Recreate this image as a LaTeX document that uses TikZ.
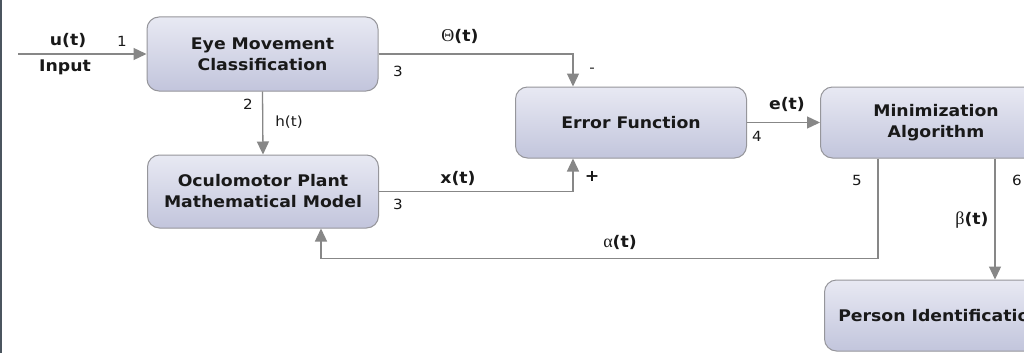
\documentclass[tikz,border=0pt]{standalone}
\usepackage{fontspec}
\setmainfont{DejaVu Sans}[FakeStretch=1.08]
\newfontfamily\grk{Liberation Serif}
\usetikzlibrary{arrows.meta}
\definecolor{lineg}{RGB}{135,135,135}
\definecolor{boxedge}{RGB}{150,150,155}
\definecolor{boxtop}{RGB}{232,233,243}
\definecolor{boxbot}{RGB}{194,197,220}
\definecolor{txt}{RGB}{25,25,25}
\definecolor{edgel}{RGB}{75,85,95}
\tikzset{
  blk/.style={draw=boxedge, line width=1pt, rounded corners=12pt, top color=boxtop, bottom color=boxbot,
    minimum width=231pt, align=center, text=txt, font=\fontsize{16}{21}\selectfont\bfseries, inner sep=0pt},
  conn/.style={draw=lineg, line width=1.3pt, -{Triangle[length=13pt,width=12pt]}},
  lbl/.style={text=txt, font=\fontsize{16}{18}\selectfont\bfseries, inner sep=0pt},
  num/.style={text=txt, font=\fontsize{14}{16}\selectfont, inner sep=0pt},
}
\begin{document}
\begin{tikzpicture}[x=1pt,y=-1pt]
\useasboundingbox (0,0) rectangle (1024,353);
\fill[white] (0,0) rectangle (1024,353);
\draw[edgel, line width=2.5pt] (1,0) -- (1,353);

\node[blk, minimum height=74pt] (eye) at (262.5,54) {Eye Movement\\Classification};
\node[blk, minimum height=73pt] (oc) at (263,191.5) {Oculomotor Plant\\Mathematical Model};
\node[blk, minimum height=71pt] (err) at (631,122.5) {Error Function};
\node[blk, minimum height=71pt] (min) at (936,122.5) {Minimization\\Algorithm};
\node[blk, minimum height=71pt] (pid) at (940,315.5) {Person Identification};

\coordinate (in) at (18,54);
\draw[conn] (in) -- (eye.west);
\node[lbl] (ut) at (68,40) {u(t)};
\node[lbl] (inp) at (65,67) {Input};
\node[num] (n1) at (122,41) {1};

\draw[conn] (eye.east) -| ([xshift=-58pt]err.north);
\node[lbl] (th) at (460,36) {{\grk\mdseries\fontsize{18}{18}\selectfont Θ}(t)};
\node[num] (n3a) at (398,71) {3};
\node[num] (minus) at (592,70) {-};

\draw[conn] (eye.south) -- (oc.north);
\node[num] (n2) at (248,104) {2};
\node[num] (ht) at (289,122) {h(t)};

\draw[conn] (oc.east) -| ([xshift=-58pt]err.south);
\node[lbl] (xt) at (458,178) {x(t)};
\node[num] (n3b) at (398,204) {3};
\node[lbl] (plus) at (592,176) {+};

\draw[conn] (err.east) -- (min.west);
\node[lbl] (et) at (787,104) {e(t)};
\node[num] (n4) at (757,136) {4};

\draw[conn] ([xshift=-58pt]min.south) -- ++(0,100) -| ([xshift=58pt]oc.south);
\node[num] (n5) at (857,180) {5};
\node[lbl] (at) at (620,242) {{\grk\mdseries\fontsize{18}{18}\selectfont α}(t)};

\draw[conn] ([xshift=59pt]min.south) -- ([xshift=59pt]min.south |- pid.north);
\node[num] (n6) at (1017,180) {6};
\node[lbl] (bt) at (972,220) {{\grk\mdseries\fontsize{18}{18}\selectfont β}(t)};
\end{tikzpicture}
\end{document}
